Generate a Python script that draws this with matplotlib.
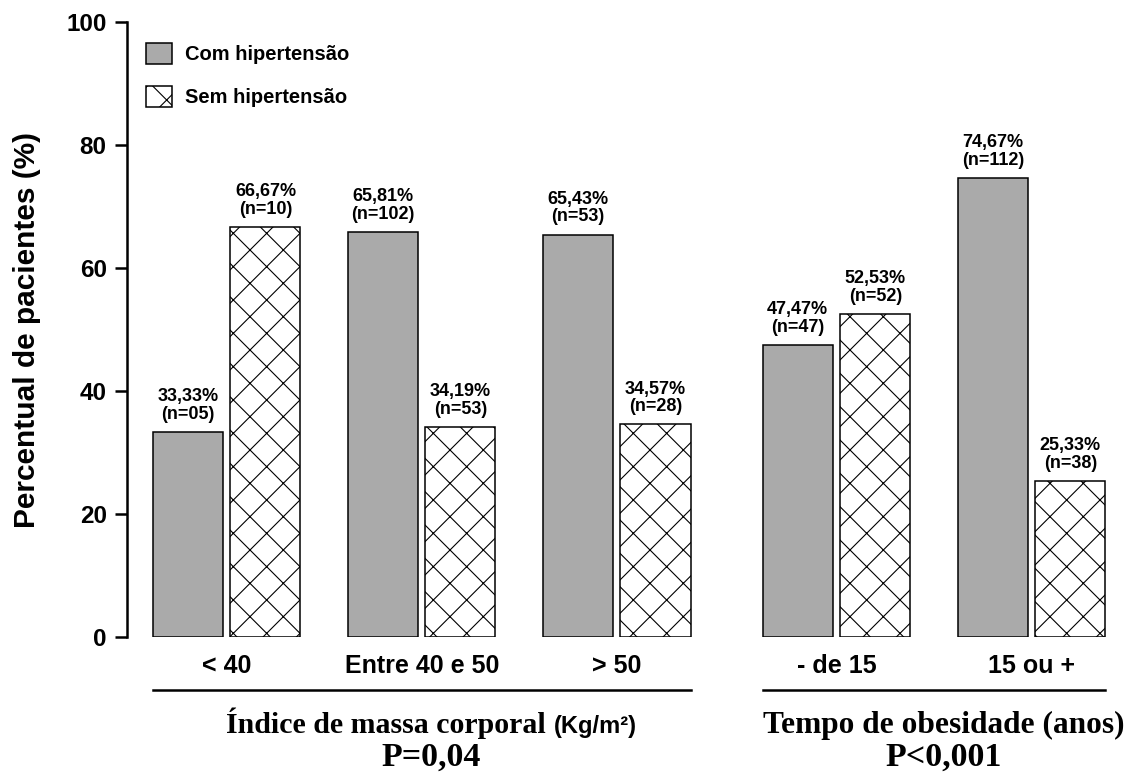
import matplotlib
matplotlib.use("Agg")
import matplotlib.pyplot as plt
import numpy as np

# dados
categorias = ["< 40", "Entre 40 e 50", "> 50", "- de 15", "15 ou +"]
com_hip = [33.33, 65.81, 65.43, 47.47, 74.67]
sem_hip = [66.67, 34.19, 34.57, 52.53, 25.33]
n_com = [5, 102, 53, 47, 112]
n_sem = [10, 53, 28, 52, 38]
yticks = [0, 20, 40, 60, 80, 100]

plt.rcParams['hatch.linewidth'] = 0.8
sans = 'Liberation Sans'
serif = 'Liberation Serif'

fig = plt.figure(figsize=(11.38, 7.78), dpi=100)
ax = fig.add_axes([127/1138, 141/778, 1003/1138, 615/778])

# posicoes dos grupos (espaco extra entre IMC e tempo de obesidade)
pos = np.array([0, 1, 2, 3.127, 4.127])
w = 0.359
d = 0.1987

ax.bar(pos - d, com_hip, w, color='#aaaaaa', edgecolor='black', linewidth=1.1,
       label='Com hipertensão')
ax.bar(pos + d, sem_hip, w, color='white', edgecolor='black', linewidth=1.1,
       hatch='x', label='Sem hipertensão')

def fmt(v, n):
    return f"{v:.2f}".replace('.', ',') + f"%\n(n={n:02d})"

for x, v, n in zip(pos - d, com_hip, n_com):
    ax.text(x, v + 1.5, fmt(v, n), ha='center', va='bottom', fontsize=13,
            fontweight='bold', family=sans, linespacing=1.05)
for x, v, n in zip(pos + d, sem_hip, n_sem):
    ax.text(x, v + 1.5, fmt(v, n), ha='center', va='bottom', fontsize=13,
            fontweight='bold', family=sans, linespacing=1.05)

ax.set_xlim(-0.5115, 4.632)
ax.set_ylim(0, 100)
ax.set_yticks(yticks)
ax.set_yticklabels([str(t) for t in yticks], fontsize=17.5, fontweight='bold', family=sans)
ax.tick_params(axis='y', length=8.6, width=1.8, pad=6)
ax.set_xticks([])
for s in ['top', 'right', 'bottom']:
    ax.spines[s].set_visible(False)
ax.spines['left'].set_linewidth(1.8)
ax.set_ylabel('Percentual de pacientes (%)', fontsize=21.5, fontweight='bold',
              family=sans, labelpad=18)

# rotulos das categorias
for x, c in zip(pos, categorias):
    ax.text(x, -4.7, c, ha='center', va='center', fontsize=18, fontweight='bold',
            family=sans, clip_on=False)

# linhas sob os grupos
ax.plot([pos[0] - d - w/2, pos[2] + d + w/2], [-8.6, -8.6], color='black', lw=1.8,
        clip_on=False)
ax.plot([pos[3] - d - w/2, pos[4] + d + w/2], [-8.6, -8.6], color='black', lw=1.8,
        clip_on=False)

# titulos dos grupos
off = 0.05
renderer = fig.canvas.get_renderer()
xc1 = pos[1] + off
t1 = ax.text(xc1, -15.6, 'Índice de massa corporal ', ha='left', va='baseline',
             fontsize=21.5, fontweight='bold', family=serif, clip_on=False)
t2 = ax.text(xc1, -15.6, '(Kg/m²)', ha='left', va='baseline', fontsize=17,
             fontweight='bold', family=sans, clip_on=False)
w1 = t1.get_window_extent(renderer).width
w2 = t2.get_window_extent(renderer).width
px = ax.transData.transform((xc1, 0))[0]
start = px - (w1 + w2) / 2
inv = ax.transData.inverted()
t1.set_x(inv.transform((start, 0))[0])
t2.set_x(inv.transform((start + w1, 0))[0])

xc2 = (pos[3] + pos[4]) / 2 + off
ax.text(xc2, -15.6, 'Tempo de obesidade (anos)', ha='center', va='baseline',
        fontsize=22.6, fontweight='bold', family=serif, clip_on=False)
ax.text(xc1, -21.0, 'P=0,04', ha='center', va='baseline', fontsize=24.5,
        fontweight='bold', family=serif, clip_on=False)
ax.text(xc2, -21.0, 'P<0,001', ha='center', va='baseline', fontsize=24.5,
        fontweight='bold', family=serif, clip_on=False)

ax.legend(loc='upper left', bbox_to_anchor=(0.019, 0.966), frameon=False,
          prop={'family': sans, 'weight': 'bold', 'size': 14.5},
          handlelength=1.3, handleheight=1.2, labelspacing=1.1,
          handletextpad=0.65, borderaxespad=0, borderpad=0)

fig.savefig('out.png', dpi=100)
